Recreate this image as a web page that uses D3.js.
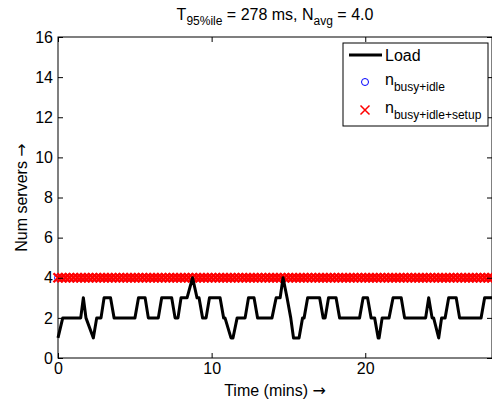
<!DOCTYPE html>
<html>
<head>
<meta charset="utf-8">
<script src="https://cdn.jsdelivr.net/npm/d3@7"></script>
<style>
  body { margin: 0; background: #fff; }
  svg { display: block; font-family: "Liberation Sans", Arial, sans-serif; }
</style>
</head>
<body>
<svg id="chart" width="492" height="406"></svg>
<script>
// ---- data ----
const xTicks = [0, 10, 20];
const yTicks = [0, 2, 4, 6, 8, 10, 12, 14, 16];

const loadTime = [0, 0.31, 1.48, 1.65, 1.82, 2.30, 2.52, 2.80, 3.00, 3.42,
  3.65, 5.01, 5.24, 5.67, 5.88, 6.53, 6.75, 7.40, 7.62, 7.81,
  8.01, 8.40, 8.76, 9.05, 9.18, 9.41, 9.64, 9.86, 10.55, 10.78,
  10.87, 11.26, 11.39, 11.66, 12.18, 12.40, 12.76, 12.99, 13.93, 14.20,
  14.46, 14.65, 14.91, 15.15, 15.33, 15.69, 15.92, 16.02, 16.25, 17.03,
  17.26, 17.39, 17.61, 18.10, 18.33, 19.63, 19.86, 20.15, 20.38, 20.61,
  20.84, 20.90, 21.10, 21.55, 21.81, 22.34, 22.56, 23.93, 24.13, 24.35,
  24.45, 24.78, 24.97, 25.20, 25.43, 25.92, 26.14, 27.54, 27.77, 28.25];
const loadValue = [1, 2, 2, 3, 2, 1, 2, 2, 3, 3,
  2, 2, 3, 3, 2, 2, 3, 3, 2, 2,
  3, 3, 4, 3, 3, 2, 2, 3, 3, 2,
  2, 1, 1, 2, 2, 3, 3, 2, 2, 3,
  3, 4, 3, 2, 1, 1, 2, 2, 3, 3,
  2, 2, 3, 3, 2, 2, 3, 3, 2, 2,
  1, 1, 2, 2, 3, 3, 2, 2, 3, 2,
  2, 1, 2, 2, 3, 3, 2, 2, 3, 3];

const sampleTime = [
  0, 0.25, 0.5, 0.75, 1, 1.25, 1.5, 1.75, 2, 2.25, 2.5, 2.75,
  3, 3.25, 3.5, 3.75, 4, 4.25, 4.5, 4.75, 5, 5.25, 5.5, 5.75,
  6, 6.25, 6.5, 6.75, 7, 7.25, 7.5, 7.75, 8, 8.25, 8.5, 8.75,
  9, 9.25, 9.5, 9.75, 10, 10.25, 10.5, 10.75, 11, 11.25, 11.5, 11.75,
  12, 12.25, 12.5, 12.75, 13, 13.25, 13.5, 13.75, 14, 14.25, 14.5, 14.75,
  15, 15.25, 15.5, 15.75, 16, 16.25, 16.5, 16.75, 17, 17.25, 17.5, 17.75,
  18, 18.25, 18.5, 18.75, 19, 19.25, 19.5, 19.75, 20, 20.25, 20.5, 20.75,
  21, 21.25, 21.5, 21.75, 22, 22.25, 22.5, 22.75, 23, 23.25, 23.5, 23.75,
  24, 24.25, 24.5, 24.75, 25, 25.25, 25.5, 25.75, 26, 26.25, 26.5, 26.75,
  27, 27.25, 27.5, 27.75, 28, 28.25];
const nBusyIdle = [
  4, 4, 4, 4, 4, 4, 4, 4, 4, 4, 4, 4,
  4, 4, 4, 4, 4, 4, 4, 4, 4, 4, 4, 4,
  4, 4, 4, 4, 4, 4, 4, 4, 4, 4, 4, 4,
  4, 4, 4, 4, 4, 4, 4, 4, 4, 4, 4, 4,
  4, 4, 4, 4, 4, 4, 4, 4, 4, 4, 4, 4,
  4, 4, 4, 4, 4, 4, 4, 4, 4, 4, 4, 4,
  4, 4, 4, 4, 4, 4, 4, 4, 4, 4, 4, 4,
  4, 4, 4, 4, 4, 4, 4, 4, 4, 4, 4, 4,
  4, 4, 4, 4, 4, 4, 4, 4, 4, 4, 4, 4,
  4, 4, 4, 4, 4, 4];
const nBusyIdleSetup = [
  4, 4, 4, 4, 4, 4, 4, 4, 4, 4, 4, 4,
  4, 4, 4, 4, 4, 4, 4, 4, 4, 4, 4, 4,
  4, 4, 4, 4, 4, 4, 4, 4, 4, 4, 4, 4,
  4, 4, 4, 4, 4, 4, 4, 4, 4, 4, 4, 4,
  4, 4, 4, 4, 4, 4, 4, 4, 4, 4, 4, 4,
  4, 4, 4, 4, 4, 4, 4, 4, 4, 4, 4, 4,
  4, 4, 4, 4, 4, 4, 4, 4, 4, 4, 4, 4,
  4, 4, 4, 4, 4, 4, 4, 4, 4, 4, 4, 4,
  4, 4, 4, 4, 4, 4, 4, 4, 4, 4, 4, 4,
  4, 4, 4, 4, 4, 4];

// ---- layout ----
const L = 58, R = 492, T = 37, B = 358;
const FS = "16px", SUB = "12px";
const svg = d3.select("#chart");
const x = d3.scaleLinear().domain([0, 28.25]).range([L, R]);
const y = d3.scaleLinear().domain([0, 16]).range([B, T]);

// plot box
svg.append("rect").attr("x", L).attr("y", T).attr("width", R - L).attr("height", B - T)
  .attr("fill", "#fff").attr("stroke", "#000").attr("stroke-width", 1);

// blue circles
svg.append("g").selectAll("circle").data(sampleTime).join("circle")
  .attr("cx", (d) => x(d)).attr("cy", (d, i) => y(nBusyIdle[i])).attr("r", 3.5)
  .attr("fill", "none").attr("stroke", "#0000ff").attr("stroke-width", 1);

// red crosses
const cs = 4.5;
svg.append("g").selectAll("path").data(sampleTime).join("path")
  .attr("d", (d, i) => {
    const cx = x(d), cy = y(nBusyIdleSetup[i]);
    return `M${cx - cs},${cy - cs}L${cx + cs},${cy + cs}M${cx - cs},${cy + cs}L${cx + cs},${cy - cs}`;
  })
  .attr("stroke", "#ff0000").attr("stroke-width", 2.4).attr("fill", "none");

// load line
const line = d3.line().x((d) => x(d[0])).y((d) => y(d[1]));
svg.append("path").datum(loadTime.map((t, i) => [t, loadValue[i]]))
  .attr("d", line).attr("fill", "none").attr("stroke", "#000").attr("stroke-width", 3)
  .attr("stroke-linejoin", "round");

// axes
function style(g) {
  g.select(".domain").remove();
  g.selectAll("line").attr("stroke", "#000");
  g.selectAll("text").attr("fill", "#000").style("font-size", FS)
    .style("font-family", '"Liberation Sans", Arial, sans-serif');
}
svg.append("g").attr("transform", `translate(0,${B})`)
  .call(d3.axisBottom(x).tickValues(xTicks).tickSizeInner(-5).tickSizeOuter(0).tickPadding(5))
  .call(style);
svg.append("g").attr("transform", `translate(0,${T})`)
  .call(d3.axisTop(x).tickValues(xTicks).tickSizeInner(-5).tickSizeOuter(0).tickFormat(""))
  .call(style);
svg.append("g").attr("transform", `translate(${L},0)`)
  .call(d3.axisLeft(y).tickValues(yTicks).tickSizeInner(-5).tickSizeOuter(0).tickPadding(5))
  .call(style);
svg.append("g").attr("transform", `translate(${R},0)`)
  .call(d3.axisRight(y).tickValues(yTicks).tickSizeInner(-5).tickSizeOuter(0).tickFormat(""))
  .call(style);

// title
const title = svg.append("text").attr("x", (L + R) / 2).attr("y", 20)
  .attr("text-anchor", "middle").style("font-size", FS).attr("fill", "#000");
title.append("tspan").text("T");
title.append("tspan").attr("dy", 5).style("font-size", SUB).text("95%ile");
title.append("tspan").attr("dy", -5).text(" = 278 ms, N");
title.append("tspan").attr("dy", 5).style("font-size", SUB).text("avg");
title.append("tspan").attr("dy", -5).text(" = 4.0");

// axis labels
const xl = svg.append("text").attr("x", (L + R) / 2).attr("y", 396).attr("text-anchor", "middle")
  .style("font-size", FS).attr("fill", "#000");
xl.append("tspan").text("Time (mins) ");
xl.append("tspan").style("font-family", '"DejaVu Sans", sans-serif').text("\u2192");
const yl = svg.append("text").attr("transform", `translate(27,${(T + B) / 2}) rotate(-90)`)
  .attr("text-anchor", "middle").style("font-size", FS).attr("fill", "#000");
yl.append("tspan").text("Num servers ");
yl.append("tspan").style("font-family", '"DejaVu Sans", sans-serif').text("\u2192");

// legend
const lg = svg.append("g");
lg.append("rect").attr("x", 343).attr("y", 43).attr("width", 145).attr("height", 83)
  .attr("fill", "#fff").attr("stroke", "#000").attr("stroke-width", 1);
lg.append("line").attr("x1", 349).attr("x2", 382).attr("y1", 55).attr("y2", 55)
  .attr("stroke", "#000").attr("stroke-width", 3);
lg.append("text").attr("x", 385).attr("y", 61).style("font-size", FS).attr("fill", "#000").text("Load");
lg.append("circle").attr("cx", 365).attr("cy", 82).attr("r", 3.5)
  .attr("fill", "none").attr("stroke", "#0000ff").attr("stroke-width", 1);
const t1 = lg.append("text").attr("x", 385).attr("y", 85).style("font-size", FS).attr("fill", "#000");
t1.append("tspan").text("n");
t1.append("tspan").attr("dy", 6).style("font-size", SUB).text("busy+idle");
lg.append("path")
  .attr("d", `M${365 - cs},${110 - cs}L${365 + cs},${110 + cs}M${365 - cs},${110 + cs}L${365 + cs},${110 - cs}`)
  .attr("stroke", "#ff0000").attr("stroke-width", 1.5);
const t2 = lg.append("text").attr("x", 385).attr("y", 113).style("font-size", FS).attr("fill", "#000");
t2.append("tspan").text("n");
t2.append("tspan").attr("dy", 6).style("font-size", SUB).text("busy+idle+setup");
</script>
</body>
</html>
